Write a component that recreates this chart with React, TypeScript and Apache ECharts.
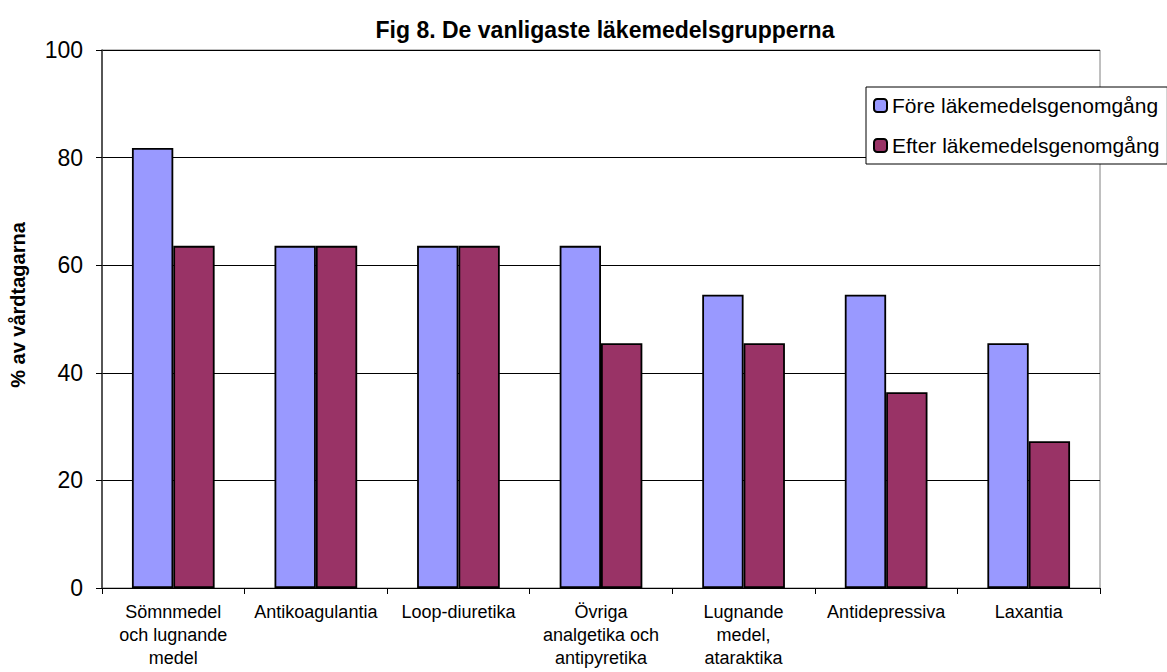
import React, { useEffect, useRef } from "react";
import * as echarts from "echarts";

const categories = [
  "Sömnmedel\noch lugnande\nmedel",
  "Antikoagulantia",
  "Loop-diuretika",
  "Övriga\nanalgetika och\nantipyretika",
  "Lugnande\nmedel,\nataraktika",
  "Antidepressiva",
  "Laxantia",
];
const foreValues = [81.8, 63.6, 63.6, 63.6, 54.5, 54.5, 45.5];
const efterValues = [63.6, 63.6, 63.6, 45.5, 45.5, 36.4, 27.3];
const seriesNames = ["Före läkemedelsgenomgång", "Efter läkemedelsgenomgång"];
const titleText = "Fig 8. De vanligaste läkemedelsgrupperna";
const yAxisName = "% av vårdtagarna";

const FONT = "'Liberation Sans', Arial, sans-serif";

export default function App() {
  const ref = useRef<HTMLDivElement>(null);
  useEffect(() => {
    if (!ref.current) return;
    const chart = echarts.init(ref.current, undefined, { renderer: "svg" });
    chart.setOption({
      animation: false,
      backgroundColor: "#ffffff",
      textStyle: { fontFamily: FONT },
      title: {
        text: titleText,
        left: 600,
        top: 13,
        textAlign: "center",
        textStyle: { fontFamily: FONT, fontSize: 23, fontWeight: "bold", color: "#000" },
      },
      legend: {
        orient: "vertical",
        left: 866,
        top: 87,
        padding: [8, 8, 8, 7],
        itemGap: 19,
        itemWidth: 13,
        itemHeight: 13,
        backgroundColor: "#ffffff",
        borderColor: "#000000",
        borderWidth: 1,
        textStyle: { fontFamily: FONT, fontSize: 21, color: "#000" },
        data: seriesNames,
      },
      grid: { left: 101, right: 67, top: 50, bottom: 84, show: true, borderColor: "#808080", borderWidth: 1, backgroundColor: "#ffffff" },
      xAxis: {
        type: "category",
        data: categories,
        axisLine: { lineStyle: { color: "#000", width: 1 } },
        axisTick: { show: true, length: 6, lineStyle: { color: "#000" } },
        axisLabel: {
          interval: 0,
          margin: 12,
          fontFamily: FONT,
          fontSize: 18,
          lineHeight: 23,
          color: "#000",
        },
      },
      yAxis: {
        type: "value",
        min: 0,
        max: 100,
        interval: 20,
        name: yAxisName,
        nameLocation: "middle",
        nameGap: 74,
        nameTextStyle: { fontFamily: FONT, fontSize: 20, fontWeight: "bold", color: "#000", padding: [0, 0, 0, 28] },
        axisLine: { show: true, lineStyle: { color: "#333", width: 1.5 } },
        axisTick: { show: true, length: 6, lineStyle: { color: "#000" } },
        axisLabel: { margin: 19, fontFamily: FONT, fontSize: 23, color: "#000" },
        splitLine: { show: true, lineStyle: { color: "#000", width: 1 } },
      },
      series: [
        {
          name: seriesNames[0],
          type: "bar",
          data: foreValues,
          barGap: "0%",
          barCategoryGap: "42%",
          itemStyle: { color: "#9999FF", borderColor: "#000", borderWidth: 1.8 },
        },
        {
          name: seriesNames[1],
          type: "bar",
          data: efterValues,
          barGap: "0%",
          barCategoryGap: "42%",
          itemStyle: { color: "#993366", borderColor: "#000", borderWidth: 1.8 },
        },
      ],
    });
    return () => chart.dispose();
  }, []);
  return (
    <div
      ref={ref}
      style={{ position: "fixed", left: 0, top: 0, width: 1167, height: 672 }}
    />
  );
}
